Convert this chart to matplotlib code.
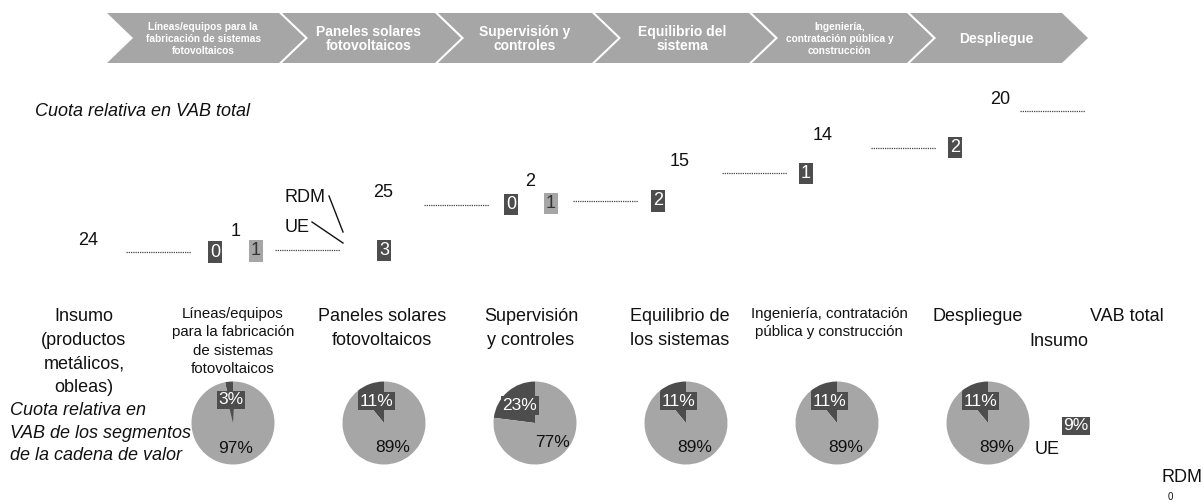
import matplotlib
matplotlib.use("Agg")
import matplotlib.pyplot as plt
from matplotlib.patches import Polygon
import numpy as np

plt.rcParams['font.family'] = ['Liberation Sans', 'DejaVu Sans']

# ---------------- data ----------------
stage_titles = [
    "Líneas/equipos para la\nfabricación de sistemas\nfotovoltaicos",
    "Paneles solares\nfotovoltaicos",
    "Supervisión y\ncontroles",
    "Equilibrio del\nsistema",
    "Ingeniería,\ncontratación pública y\nconstrucción",
    "Despliegue",
]
stage_small = [True, False, False, False, True, False]

categories = [
    "Insumo\n(productos\nmetálicos,\nobleas)",
    "Líneas/equipos\npara la fabricación\nde sistemas\nfotovoltaicos",
    "Paneles solares\nfotovoltaicos",
    "Supervisión\ny controles",
    "Equilibrio de\nlos sistemas",
    "Ingeniería, contratación\npública y construcción",
    "Despliegue",
    "VAB total",
]
category_small = [False, True, False, False, False, True, False, False]

vab_share = [24, 1, 25, 2, 15, 14, 20]          # relative share of total GVA
ue_vab = [None, 0, 3, 0, 2, 1, 2]               # UE (dark boxes)
rdm_vab = [None, 1, None, 1, None, None, None]  # RDM (light boxes)

pie_ue = [3, 11, 23, 11, 11, 11]
pie_rdm = [97, 89, 77, 89, 89, 89]

total_insumo_ue = 9
total_insumo_rdm = 0

# ---------------- style ----------------
W, H = 1203, 504
DARK = "#4d4d4d"
LIGHT = "#a6a6a6"
TXT = "#111111"

fig = plt.figure(figsize=(W / 100, H / 100), dpi=100)
ov = fig.add_axes([0, 0, 1, 1])
ov.set_xlim(0, W)
ov.set_ylim(H, 0)
ov.axis('off')

# chevrons
edges = [107, 279, 435, 592, 749, 907, 1062]
top, bot, depth, gap = 13, 63, 26, 3
mid = (top + bot) / 2
for k, title in enumerate(stage_titles):
    L = edges[k] + (gap if k > 0 else 0)
    R = edges[k + 1]
    poly = [(L, top), (R, top), (R + depth, mid), (R, bot), (L, bot), (L + depth, mid)]
    ov.add_patch(Polygon(poly, closed=True, fc=LIGHT, ec='none'))
    cx = (L + R) / 2 + 10
    ov.text(cx, mid + 1, title, ha='center', va='center', color='white',
            fontsize=7.3 if stage_small[k] else 10, fontweight='bold',
            linespacing=1.3 if stage_small[k] else 1.05)

ov.text(35, 111, "Cuota relativa en VAB total", ha='left', va='center',
        fontsize=13, style='italic', color=TXT)

# category labels
for i, lab in enumerate(categories):
    x = 84 + 149 * i
    small = category_small[i]
    ov.text(x, 307 if small else 308, lab, ha='center', va='top', color=TXT,
            fontsize=10.8 if small else 13,
            linespacing=1.4 if small else 1.52)

ov.text(10, 433, "Cuota relativa en\nVAB de los segmentos\nde la cadena de valor",
        ha='left', va='center', fontsize=13, style='italic', color=TXT, linespacing=1.45)

# ---------------- waterfall ----------------
y0_px, y1_px, px_per_unit = 296, 60, 1.83
wf = fig.add_axes([0, (H - y0_px) / H, 1, (y0_px - y1_px) / H])
wf.set_xlim(-84 / 149, (W - 84) / 149)
wf.set_ylim(0, (y0_px - y1_px) / px_per_unit)
wf.axis('off')

vals = np.array(vab_share)
cum = np.cumsum(vals)
base = cum - vals
xs = np.arange(len(vals))
wf.bar(xs, vals, bottom=base, width=0.4, color='none', edgecolor='none')

label_dx_px = [4, 3, 1, -1, 0, -6, 22]
ue_dx_px = [0, -18, 2, -20, -22, -23, -23]
rdm_dx_px = [0, 23, 0, 20, 0, 0, 0]
for i in xs:
    wf.hlines(cum[i], i + 0.28, i + 0.72, colors="#444444", linewidth=0.9,
              linestyles=(0, (1, 0.8)))
    off = 19 if rdm_vab[i] is not None else 12
    wf.annotate(str(vals[i]), (i + label_dx_px[i] / 149, cum[i]), xytext=(0, off),
                textcoords='offset pixels', ha='center', va='center', fontsize=13, color=TXT)
    if ue_vab[i] is not None:
        wf.text(i + ue_dx_px[i] / 149, base[i], str(ue_vab[i]), ha='center', va='center',
                fontsize=13, color='white',
                bbox=dict(boxstyle='square,pad=0.12', fc=DARK, ec='none'))
    if rdm_vab[i] is not None:
        wf.text(i + rdm_dx_px[i] / 149, base[i] + 0.6, str(rdm_vab[i]), ha='center', va='center',
                fontsize=13, color="#333333",
                bbox=dict(boxstyle='square,pad=0.12', fc=LIGHT, ec='none'))

# RDM / UE legend annotation
ov.text(305, 198, "RDM", ha='center', va='center', fontsize=13, color=TXT)
ov.text(297, 227, "UE", ha='center', va='center', fontsize=13, color=TXT)
ov.plot([329, 343], [196, 232], color=TXT, lw=1)
ov.plot([312, 343], [222, 243], color=TXT, lw=1)

# ---------------- pies ----------------
R, cy = 41.5, 423
for k, (u, r_) in enumerate(zip(pie_ue, pie_rdm)):
    cx = 233 + 151 * k
    pa = fig.add_axes([(cx - R) / W, (H - cy - R) / H, 2 * R / W, 2 * R / H])
    pa.pie([u, r_], colors=[DARK, LIGHT], startangle=90, counterclock=True,
           radius=1, wedgeprops=dict(linewidth=0))
    pa.set_xlim(-1, 1)
    pa.set_ylim(-1, 1)
    pa.axis('off')
    a1 = np.deg2rad(90 + 3.6 * u / 2)
    lx, ly = 0.56 * np.cos(a1), 0.56 * np.sin(a1)
    pa.add_patch(Polygon([(lx - 0.08, ly), (lx + 0.08, ly), (0, 0)], closed=True,
                         fc=DARK, ec='none'))
    pa.text(lx, ly, f"{u}%", ha='center', va='center', fontsize=12.5, color='white',
            bbox=dict(boxstyle='square,pad=0.1', fc=DARK, ec='none'))
    a2 = np.deg2rad(90 + 3.6 * u + 3.6 * r_ / 2)
    pa.text(0.62 * np.cos(a2), 0.62 * np.sin(a2), f"{r_}%", ha='center', va='center',
            fontsize=12.5, color=TXT)

# VAB total stub (Insumo)
ov.text(1059, 342, "Insumo", ha='center', va='center', fontsize=13, color=TXT)
ov.text(1076, 426, f"{total_insumo_ue}%", ha='center', va='center', fontsize=12.5,
        color='white', bbox=dict(boxstyle='square,pad=0.1', fc=DARK, ec='none'))
ov.text(1035, 450, "UE", ha='left', va='center', fontsize=13, color=TXT)
ov.text(1182, 478, "RDM", ha='center', va='center', fontsize=13, color=TXT)
ov.text(1170, 497, str(total_insumo_rdm), ha='center', va='center', fontsize=7, color=TXT)

fig.savefig("out.png", dpi=100, facecolor='white')
